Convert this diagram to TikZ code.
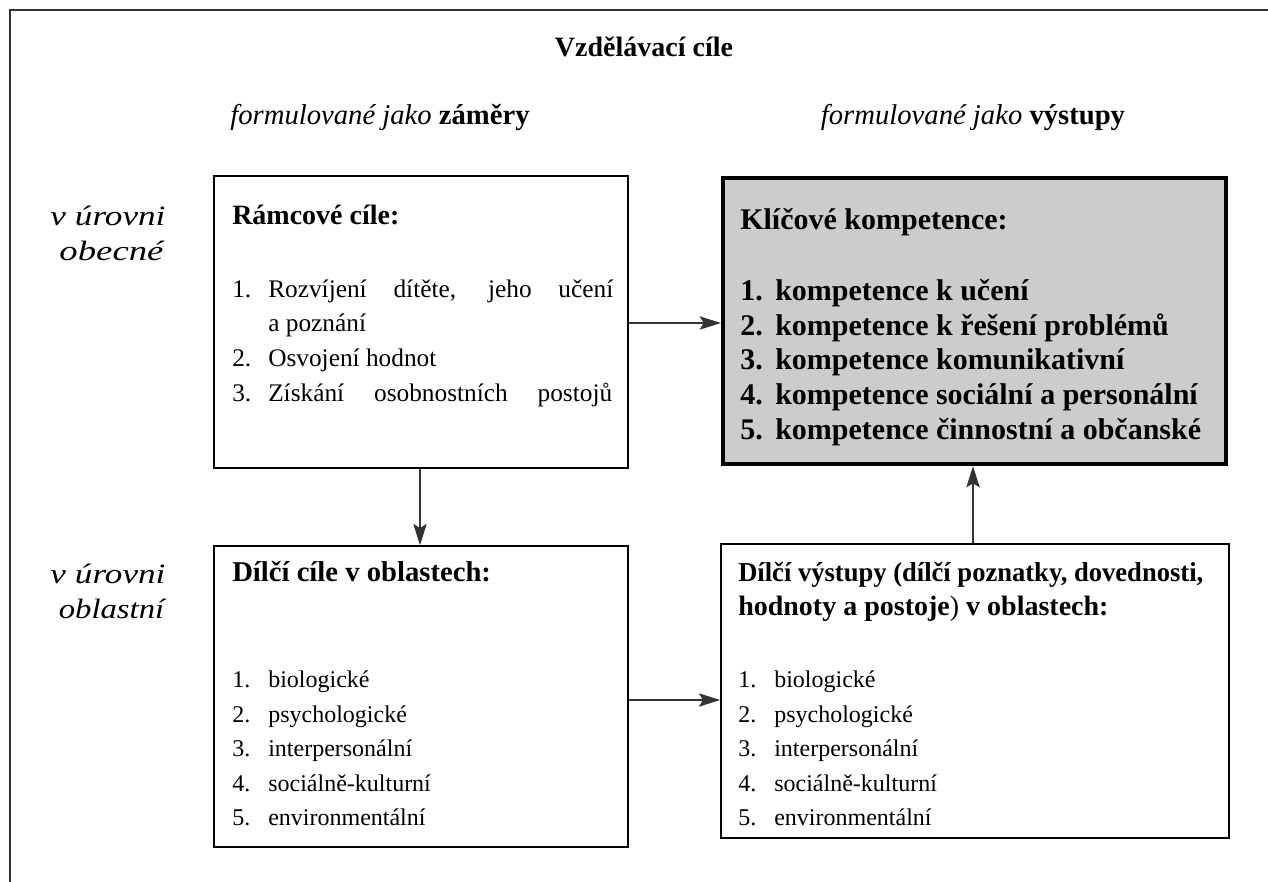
\documentclass[tikz,border=0pt]{standalone}
\usepackage{graphicx}
\usepackage{fontspec}
\setmainfont{Liberation Serif}
\usetikzlibrary{arrows.meta}
% set a line at a given width, keeping its height
\newcommand{\fitw}[2]{\resizebox{#1}{\height}{#2}}
% justify a line to a given width by widening its word spaces
\newcommand{\just}[2]{\makebox[#1][s]{#2}}
\begin{document}
\begin{tikzpicture}[x=0.75pt,y=-0.75pt,
  font=\fontsize{18}{24}\selectfont,
  box/.style={draw=black, line width=1.1pt, rectangle, inner sep=0pt},
  thickbox/.style={draw=black, line width=3pt, fill=boxgray, rectangle, inner sep=0pt},
  txt/.style={anchor=base west, inner sep=0pt},
  rtxt/.style={anchor=base west, inner sep=0pt, font=\fontsize{19}{24}\selectfont},
  btxt/.style={anchor=base west, inner sep=0pt, font=\fontsize{21}{24}\selectfont\bfseries},
  vbtxt/.style={anchor=base west, inner sep=0pt, font=\fontsize{20.5}{24}\selectfont\bfseries},
  kbtxt/.style={anchor=base west, inner sep=0pt, font=\fontsize{22.5}{24}\selectfont\bfseries},
  ctxt/.style={anchor=base, inner sep=0pt},
  lab/.style={anchor=base, inner sep=0pt, font=\fontsize{21}{24}\selectfont\itshape},
  arr/.style={-{Stealth[length=16pt, width=10pt, inset=3pt]}, line width=1.1pt, draw=black!80}
]
\definecolor{boxgray}{HTML}{CCCCCC}
\useasboundingbox (0,0) rectangle (1268,882);
\draw[line width=1.5pt, draw=black!80] (1268,10) -- (10,10) -- (10,882);

% titles
\node[ctxt, font=\fontsize{21}{24}\selectfont\bfseries] (title) at (644,56) {Vzdělávací cíle};
\node[ctxt, font=\fontsize{21.5}{24}\selectfont] (hz) at (380,124) {\textit{formulované jako} \textbf{záměry}};
\node[ctxt, font=\fontsize{21.5}{24}\selectfont] (hv) at (973,124) {\textit{formulované jako} \textbf{výstupy}};
\node[lab] (ob1) at (108,225) {\fitw{86.25pt}{v úrovni}};
\node[lab] (ob2) at (111.5,260) {\fitw{78pt}{obecné}};
\node[lab] (ol1) at (108,583) {\fitw{86.25pt}{v úrovni}};
\node[lab] (ol2) at (111.5,618) {\fitw{79pt}{oblastní}};

% boxes
\node[box, minimum width=414*0.75pt, minimum height=292*0.75pt] (rc) at (421,322) {};
\node[thickbox, minimum width=503*0.75pt, minimum height=286*0.75pt] (kk) at (974.5,321) {};
\node[box, minimum width=414*0.75pt, minimum height=301*0.75pt] (dc) at (421,696.5) {};
\node[box, minimum width=508*0.75pt, minimum height=294*0.75pt] (dv) at (975,691) {};

% Rámcové cíle
\node[btxt] (rch) at (232,224) {Rámcové cíle:};
\node[rtxt] (rn1) at (232,297) {1.};
\node[rtxt] (rt1) at (268,297) {\just{258.75pt}{Rozvíjení dítěte, jeho učení}};
\node[rtxt] (rt1b) at (268,331) {a poznání};
\node[rtxt] (rn2) at (232,366) {2.};
\node[rtxt] (rt2) at (268,366) {Osvojení hodnot};
\node[rtxt] (rn3) at (232,401) {3.};
\node[rtxt] (rt3) at (268,401) {\just{258pt}{Získání osobnostních postojů}};

% Klíčové kompetence
\node[kbtxt] (kkh) at (740,229) {Klíčové kompetence:};
\node[kbtxt] (kn1) at (740,300) {1.};
\node[kbtxt] (kt1) at (775,300) {kompetence k učení};
\node[kbtxt] (kn2) at (740,335) {2.};
\node[kbtxt] (kt2) at (775,335) {kompetence k řešení problémů};
\node[kbtxt] (kn3) at (740,369) {3.};
\node[kbtxt] (kt3) at (775,369) {kompetence komunikativní};
\node[kbtxt] (kn4) at (740,404) {4.};
\node[kbtxt] (kt4) at (775,404) {kompetence sociální a personální};
\node[kbtxt] (kn5) at (740,439) {5.};
\node[kbtxt] (kt5) at (775,439) {kompetence činnostní a občanské};

% Dílčí cíle
\node[btxt, font=\fontsize{21.5}{24}\selectfont\bfseries] (dch) at (232,581) {Dílčí cíle v oblastech:};
\node[txt] (dn1) at (232,687) {1.};
\node[txt] (dt1) at (268,687) {biologické};
\node[txt] (dn2) at (232,722) {2.};
\node[txt] (dt2) at (268,722) {psychologické};
\node[txt] (dn3) at (232,756) {3.};
\node[txt] (dt3) at (268,756) {interpersonální};
\node[txt] (dn4) at (232,791) {4.};
\node[txt] (dt4) at (268,791) {sociálně-kulturní};
\node[txt] (dn5) at (232,825) {5.};
\node[txt] (dt5) at (268,825) {environmentální};

% Dílčí výstupy
\node[vbtxt] (dvh1) at (738,581) {\fitw{348.75pt}{Dílčí výstupy (dílčí poznatky, dovednosti,}};
\node[btxt] (dvh2) at (738,615) {hodnoty a postoje{\mdseries)} v oblastech:};
\node[txt] (vn1) at (738,687) {1.};
\node[txt] (vt1) at (774,687) {biologické};
\node[txt] (vn2) at (738,722) {2.};
\node[txt] (vt2) at (774,722) {psychologické};
\node[txt] (vn3) at (738,756) {3.};
\node[txt] (vt3) at (774,756) {interpersonální};
\node[txt] (vn4) at (738,791) {4.};
\node[txt] (vt4) at (774,791) {sociálně-kulturní};
\node[txt] (vn5) at (738,825) {5.};
\node[txt] (vt5) at (774,825) {environmentální};

% arrows
\draw[arr] (rc.east |- 0,323) -- (kk.west |- 0,323);
\draw[arr] (rc.south -| 420,0) -- (dc.north -| 420,0);
\draw[arr] (dv.north -| 973,0) -- (kk.south -| 973,0);
\draw[arr] (dc.east |- 0,700) -- (dv.west |- 0,700);
\end{tikzpicture}
\end{document}
